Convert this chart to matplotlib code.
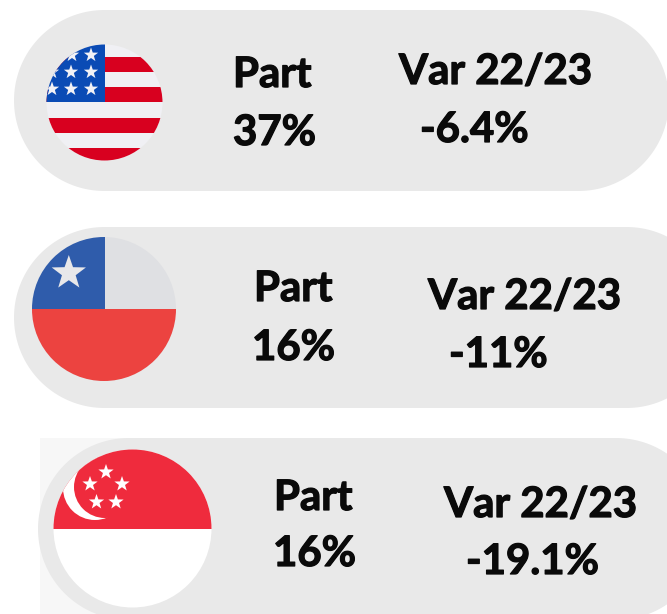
import numpy as np
import matplotlib
matplotlib.use("Agg")
import matplotlib.pyplot as plt
import matplotlib.patheffects as pe
from matplotlib.patches import Circle, Rectangle

part_values = ["37%", "16%", "16%"]
var_values = ["-6.4%", "-11%", "-19.1%"]
part_title = "Part"
var_title = "Var 22/23"

W, H = 667, 614
fig = plt.figure(figsize=(W / 100, H / 100), dpi=100)
ax = fig.add_axes([0, 0, 1, 1])
ax.set_xlim(0, W)
ax.set_ylim(H, 0)
ax.axis("off")

PILL = "#e9e9e9"

def pill(x0, x1, y0, y1):
    r = (y1 - y0) / 2
    cy = (y0 + y1) / 2
    t = np.linspace(np.pi / 2, 3 * np.pi / 2, 100)
    xs = np.r_[x0 + r + r * np.cos(t), x1 - r - r * np.cos(t)]
    ys = np.r_[cy - r * np.sin(t), cy + r * np.sin(t)]
    ax.fill(xs, ys, color=PILL, lw=0, zorder=1)

def star(cx, cy, r, color, z=5, clip=None):
    a = np.deg2rad(-90 + 36 * np.arange(10))
    rr = np.where(np.arange(10) % 2 == 0, r, r * 0.40)
    s = ax.fill(cx + rr * np.cos(a), cy + rr * np.sin(a), color=color, lw=0, zorder=z)[0]
    if clip is not None:
        s.set_clip_path(clip)

def clipped(patch, clip):
    ax.add_patch(patch)
    patch.set_clip_path(clip)
    return patch

# background patch behind third pill
ax.add_patch(Rectangle((40, 438), 182, 176, fc="#f7f7f7", ec="none", zorder=0))
pill(14, 669, 10, 191)
pill(14, 717, 227, 408)
pill(38, 707, 438, 620)

# USA
c = Circle((104.5, 102.5), 58, fc="#f0f0f4", ec="none", zorder=2)
ax.add_patch(c)
for y0 in (57, 87, 118, 148):
    clipped(Rectangle((40, y0), 130, 15, fc="#d8001f", ec="none", zorder=3), c)
clipped(Rectangle((40, 40), 64.5, 62, fc="#0a4bb5", ec="none", zorder=4), c)
for sx, sy in [(91, 55), (72, 55), (52, 72), (71, 72), (91, 72), (52, 89), (71, 89), (91, 89)]:
    star(sx, sy, 7.5, "#f2f2f6", clip=c)

# Chile
c = Circle((104, 309), 72, fc="#dfe0e3", ec="none", zorder=2)
ax.add_patch(c)
clipped(Rectangle((30, 309), 150, 75, fc="#ec4340", ec="none", zorder=3), c)
clipped(Rectangle((30, 235), 74.5, 74, fc="#2f5cab", ec="none", zorder=3), c)
star(68.8, 273, 18, "#e8e8ea")

# Singapore
c = Circle((132.5, 528.5), 79, fc="#ffffff", ec="none", zorder=2)
ax.add_patch(c)
clipped(Rectangle((50, 445), 170, 84, fc="#ef2b3d", ec="none", zorder=3), c)
clipped(Circle((95, 488), 32, fc="#ffffff", ec="none", zorder=4), c)
clipped(Circle((105, 487), 31, fc="#ef2b3d", ec="none", zorder=5), c)
for sx, sy in [(106, 472), (90, 484), (122, 484), (96.5, 502), (116, 502)]:
    star(sx, sy, 8, "#ffffff", z=6)

# text
font = dict(family="Lato", fontweight="bold", color="#0a0a0a", fontsize=30.2, va="baseline", ha="left", zorder=10,
            path_effects=[pe.withStroke(linewidth=0.9, foreground="#0a0a0a")])
part_title_x = [233, 254, 274]
part_title_y = [87, 301, 510]
part_val_x = [233, 252, 273]
part_val_y = [145, 360, 566]
var_title_x = [399, 428, 444]
var_title_y = [84, 309, 517]
var_val_x = [420, 449, 466]
var_val_y = [142, 367, 574]
for i in range(3):
    ax.text(part_title_x[i], part_title_y[i], part_title, **font)
    ax.text(part_val_x[i], part_val_y[i], part_values[i], **font)
    ax.text(var_title_x[i], var_title_y[i], var_title, **font)
    ax.text(var_val_x[i], var_val_y[i], var_values[i], **font)

fig.savefig("out.png", dpi=100)
